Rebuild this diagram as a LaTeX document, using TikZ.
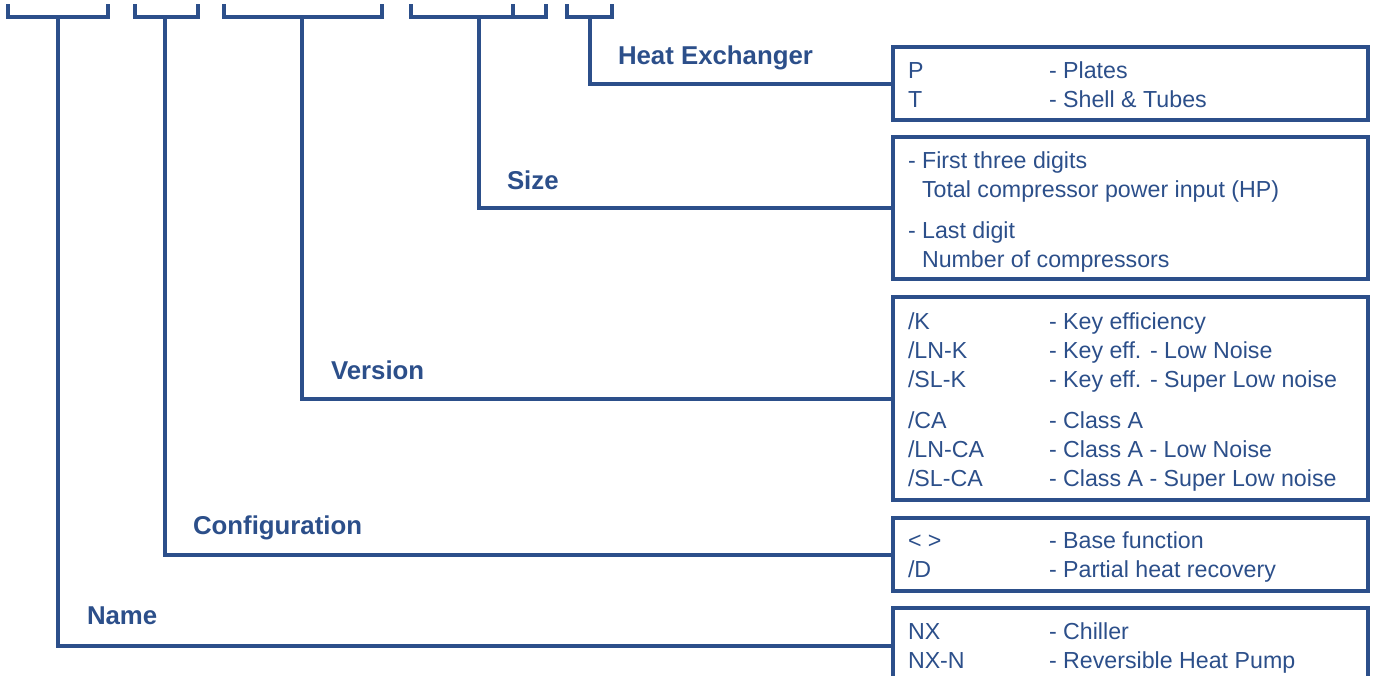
\documentclass[tikz,border=0pt]{standalone}
\usepackage{fontspec}
\setmainfont{Liberation Sans}
\definecolor{codeblue}{RGB}{44,79,138}
\begin{document}
\begin{tikzpicture}[x=0.5pt,y=-0.5pt,color=codeblue,line width=2pt,
  field/.style={draw,anchor=north west,inner sep=0pt,outer sep=0pt,minimum width=237.5pt},
  head/.style={font=\fontsize{12.9}{15}\selectfont\bfseries,anchor=base west,inner sep=0pt},
  item/.style={font=\fontsize{11.6}{14}\selectfont,anchor=base west,inner sep=0pt}]
  \useasboundingbox (0,0) rectangle (1374,675);
  \draw (8,4) |- (108,17) -- (108,4);
  \draw (135,4) |- (198,17) -- (198,4);
  \draw (224,4) |- (382,17) -- (382,4);
  \draw (411,4) |- (546,17) -- (546,4); \draw (513,4) -- (513,17);
  \draw (567,4) |- (612,17) -- (612,4);
  \coordinate (nm) at (58,17);
  \coordinate (cf) at (165,17);
  \coordinate (vr) at (302,17);
  \coordinate (sz) at (479,17);
  \coordinate (hx) at (590,17);
  \node[field,minimum height=36.5pt] (hxbox) at (893,47) {};
  \node[field,minimum height=71pt] (szbox) at (893,137) {};
  \node[field,minimum height=101.5pt] (vrbox) at (893,297) {};
  \node[field,minimum height=36.5pt] (cfbox) at (893,518) {};
  \node[field,minimum height=37.5pt] (nmbox) at (893,608) {};
  \draw (hx) |- (hxbox.west);
  \draw (sz) |- (szbox.west);
  \draw (vr) |- (vrbox.west);
  \draw (cf) |- (cfbox.west);
  \draw (nm) |- (nmbox.west);
  \node[head] (hxlabel) at (616,64) {Heat Exchanger};
  \node[head] (szlabel) at (505,189) {Size};
  \node[head] (vrlabel) at (329,379) {Version};
  \node[head] (cflabel) at (191,534) {Configuration};
  \node[head] (nmlabel) at (85,624) {Name};
  \node[item] (hxp) at (906,78) {P};
  \node[item] (hxpd) at (1047,78) {- Plates};
  \node[item] (hxt) at (906,107) {T};
  \node[item] (hxtd) at (1047,107) {- Shell \& Tubes};
  \node[item] (szfirst) at (906,168) {- First three digits};
  \node[item] (szfirstd) at (920,197) {Total compressor power input (HP)};
  \node[item] (szlast) at (906,238) {- Last digit};
  \node[item] (szlastd) at (920,267) {Number of compressors};
  \node[item] (vrk) at (906,329) {/K};
  \node[item] (vrkd) at (1047,329) {- Key efficiency};
  \node[item] (vrlnk) at (906,358) {/LN-K};
  \node[item] (vrlnkd) at (1047,358) {- Key eff. - Low Noise};
  \node[item] (vrslk) at (906,387) {/SL-K};
  \node[item] (vrslkd) at (1047,387) {- Key eff. - Super Low noise};
  \node[item] (vrca) at (906,428) {/CA};
  \node[item] (vrcad) at (1047,428) {- Class A};
  \node[item] (vrlnca) at (906,457) {/LN-CA};
  \node[item] (vrlncad) at (1047,457) {- Class A - Low Noise};
  \node[item] (vrslca) at (906,486) {/SL-CA};
  \node[item] (vrslcad) at (1047,486) {- Class A - Super Low noise};
  \node[item] (cfbase) at (906,548) {< >};
  \node[item] (cfbased) at (1047,548) {- Base function};
  \node[item] (cfd) at (906,577) {/D};
  \node[item] (cfdd) at (1047,577) {- Partial heat recovery};
  \node[item] (nmnx) at (906,639) {NX};
  \node[item] (nmnxd) at (1047,639) {- Chiller};
  \node[item] (nmnxn) at (906,668) {NX-N};
  \node[item] (nmnxnd) at (1047,668) {- Reversible Heat Pump};
\end{tikzpicture}
\end{document}
